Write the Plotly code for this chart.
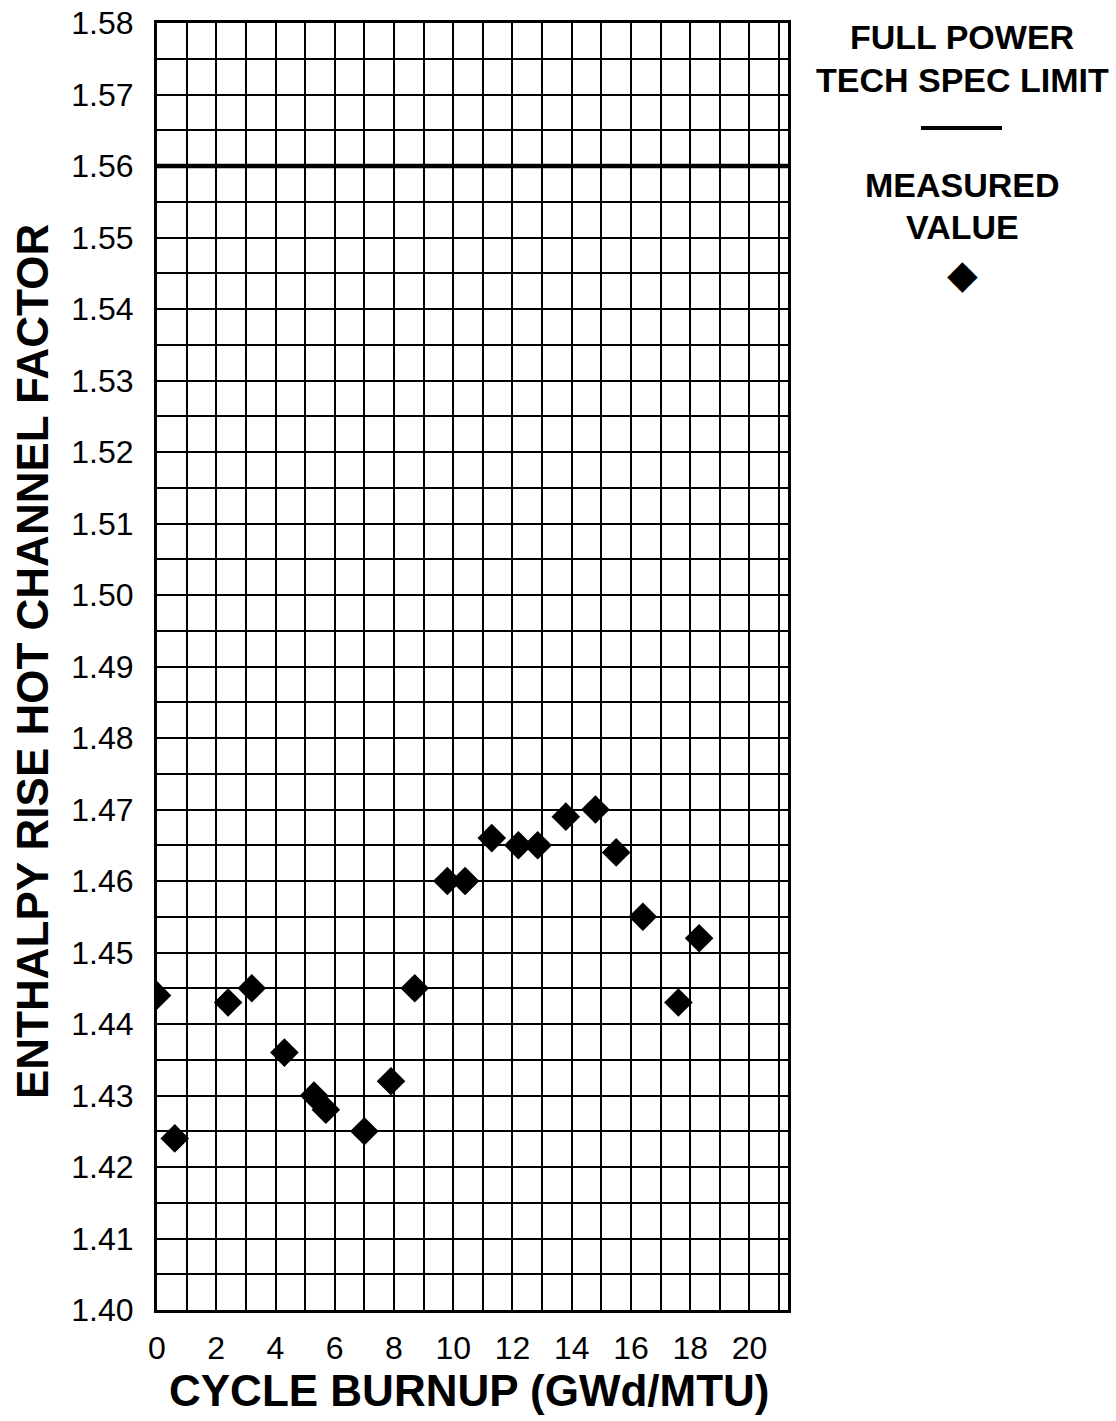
import plotly.graph_objects as go

# Data
burnup = [0.0, 0.6, 2.4, 3.2, 4.3, 5.3, 5.7, 7.0, 7.9, 8.7, 9.8, 10.4,
          11.3, 12.2, 12.85, 13.8, 14.8, 15.5, 16.4, 17.6, 18.3]
fdh = [1.444, 1.424, 1.443, 1.445, 1.436, 1.430, 1.428, 1.425, 1.432, 1.445,
       1.460, 1.460, 1.466, 1.465, 1.465, 1.469, 1.470, 1.464, 1.455, 1.443, 1.452]
tech_spec_limit = 1.56

x_range = [0, 21.3]
y_range = [1.40, 1.58]

FONT = "Arial, 'Liberation Sans', sans-serif"

fig = go.Figure()
fig.add_trace(go.Scatter(
    x=burnup, y=fdh, mode="markers",
    marker=dict(symbol="diamond", size=22, color="black", line=dict(width=0)),
    showlegend=False, cliponaxis=True,
))

fig.add_hline(y=tech_spec_limit, line=dict(color="black", width=4.5), layer="above")

fig.update_xaxes(
    range=x_range, dtick=2, tick0=0, showgrid=True, gridcolor="black", gridwidth=1.6,
    minor=dict(dtick=1, tick0=0, showgrid=True, gridcolor="black", gridwidth=1.6),
    showline=True, linecolor="black", linewidth=3, mirror=True,
    ticks="", zeroline=False, ticklabelstandoff=8, automargin=False,
    tickfont=dict(family=FONT, size=32, color="black"),
)
fig.update_yaxes(
    range=y_range, dtick=0.01, tick0=1.40, tickformat=".2f",
    showgrid=True, gridcolor="black", gridwidth=1.6,
    minor=dict(dtick=0.005, tick0=1.40, showgrid=True, gridcolor="black", gridwidth=1.6),
    showline=True, linecolor="black", linewidth=3, mirror=True,
    ticks="", zeroline=False, ticklabelstandoff=14, automargin=False,
    tickfont=dict(family=FONT, size=32, color="black"),
)

L, R, T, B = 157, 328, 23, 111
W, H = 1116, 1421
pw, ph = W - L - R, H - T - B

def px(xp):
    return (xp - L) / pw

def py(yp):
    return (H - B - yp) / ph

def label(text, xp, yp, size, bold=True, angle=0, family=FONT):
    t = f"<b>{text}</b>" if bold else text
    return dict(text=t, x=px(xp), y=py(yp), xref="paper", yref="paper",
                showarrow=False, textangle=angle,
                font=dict(family=family, size=size, color="black"),
                xanchor="center", yanchor="middle")

annotations = [
    label("CYCLE BURNUP (GWd/MTU)", 469, 1390, 44),
    label("ENTHALPY RISE HOT CHANNEL FACTOR", 33, 662, 44, angle=-90),
    label("FULL POWER", 962, 37, 34),
    label("TECH SPEC LIMIT", 962, 80, 34),
    label("MEASURED", 962, 185, 34),
    label("VALUE", 962, 227, 34),
    label("◆", 963, 274, 40, bold=False, family="DejaVu Sans"),
]

fig.add_shape(type="line", xref="paper", yref="paper",
              x0=px(921), x1=px(1002), y0=py(128), y1=py(128),
              line=dict(color="black", width=4))

fig.update_layout(
    width=W, height=H,
    margin=dict(l=L, r=R, t=T, b=B, autoexpand=False),
    paper_bgcolor="white", plot_bgcolor="white",
    annotations=annotations,
    showlegend=False,
)

fig.write_html("out.html")
